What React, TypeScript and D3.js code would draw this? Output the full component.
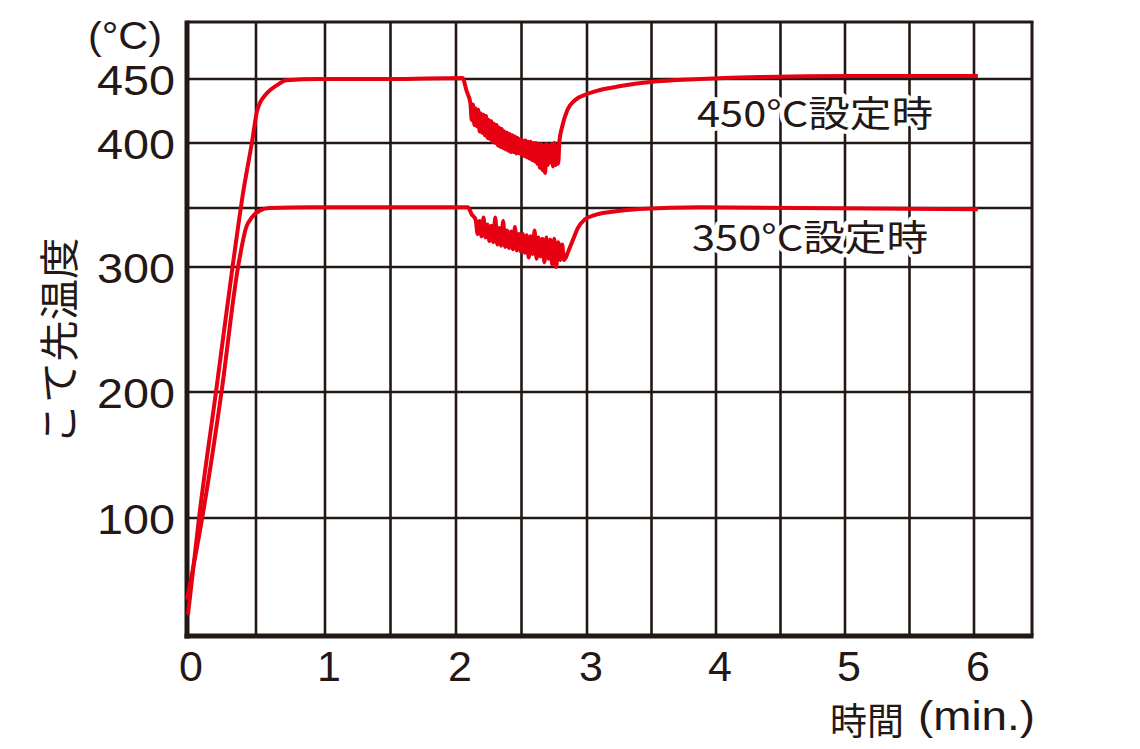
import React from "react";
import * as d3 from "d3";

// ---- data ----
const xTicks = [0, 1, 2, 3, 4, 5, 6];
const xGrid = [0.5, 1, 1.5, 2, 2.5, 3, 3.5, 4, 4.5, 5, 5.5, 6];
const yTicks = [100, 200, 300, 400, 450];
const yGrid = [100, 200, 300, 350, 400, 450];

const t450 = [0.007, 0.087, 0.21, 0.33, 0.41, 0.47, 0.51, 0.58, 0.65, 0.72, 0.96, 1.5, 2.05, 2.08,
  2.11, 2.12, 2.13, 2.14, 2.15, 2.16, 2.17, 2.18, 2.19, 2.2, 2.21, 2.22, 2.23, 2.24, 2.25, 2.26, 2.27, 2.28, 2.29, 2.3,
  2.31, 2.32, 2.33, 2.34, 2.35, 2.36, 2.37, 2.38, 2.39, 2.4, 2.41, 2.42, 2.43, 2.44, 2.45, 2.46, 2.47, 2.48, 2.49, 2.5,
  2.51, 2.52, 2.53, 2.54, 2.55, 2.56, 2.57, 2.58, 2.59, 2.6, 2.61, 2.62, 2.63, 2.64, 2.65, 2.66, 2.67, 2.68, 2.69, 2.7,
  2.71, 2.72, 2.73, 2.74, 2.75, 2.76, 2.77, 2.78,
  2.79, 2.81, 2.85, 2.91, 3.0, 3.1, 3.26, 3.49, 3.88, 4.34, 5.04, 6.03];
const v450 = [23, 100, 200, 300, 364, 400, 426, 439, 445, 449, 450, 450, 450.8, 441,
  431, 418, 430, 414, 427, 413, 426, 409, 423, 408, 422, 406, 421, 404, 418, 403, 417, 401, 415, 400,
  414, 398, 412, 397, 411, 396, 409, 395, 408, 394, 407, 393, 406, 393, 405, 392, 404, 392, 403, 391,
  402, 390, 402, 389, 401, 388, 401, 387, 400, 386, 400, 384, 399, 381, 399, 379, 398, 377, 399, 383,
  398, 385, 399, 382, 400, 383, 398, 384,
  402, 412.5, 425.8, 433.6, 438.3, 441.4, 444.5, 447.7, 450, 451.6, 452.3, 452.3];

const t350 = [0.0, 0.11, 0.25, 0.37, 0.43, 0.47, 0.53, 0.6, 0.9, 1.5, 2.09, 2.12,
  2.15, 2.165, 2.18, 2.195, 2.21, 2.225, 2.24, 2.255, 2.27, 2.285, 2.3, 2.315, 2.33, 2.345, 2.36, 2.375, 2.39, 2.405,
  2.42, 2.435, 2.45, 2.465, 2.48, 2.495, 2.51, 2.525, 2.54, 2.555, 2.57, 2.585, 2.6, 2.615, 2.63, 2.645, 2.66, 2.675,
  2.69, 2.705, 2.72, 2.735, 2.75, 2.765, 2.78, 2.795, 2.81, 2.825,
  2.86, 2.9, 2.93, 2.98, 3.06, 3.18, 3.41, 3.88, 6.03];
const v350 = [35, 100, 200, 300, 334, 342, 348, 350, 350.5, 350.5, 350.5, 344.6,
  340, 328, 339, 326, 342, 325, 336, 322, 335, 321, 342, 319, 333, 318, 339, 317, 331, 316,
  330, 315, 334, 314, 328, 313, 328, 312, 327, 308, 326, 311, 331, 307, 325, 309, 324, 304,
  325, 307, 323, 302, 324, 300, 321, 306, 319, 306,
  314, 325, 333, 340, 344, 346.6, 349.2, 350.5, 349];

const RED = "#e60012";
const INK = "#231815";
const FONT = "'Noto Sans CJK JP', 'Noto Sans', sans-serif";
const LATIN = "'Liberation Sans', Arial, sans-serif";

export default function App() {
  const x = d3.scaleLinear().domain([0, 1, 2, 3, 4, 5, 6, 6.45]).range([187, 325, 456, 587, 716, 845, 974, 1032]);
  const y = d3.scaleLinear().domain([6, 100, 200, 300, 350, 400, 450, 495]).range([636, 518, 392, 267, 208, 143, 79, 22]);
  const [x0, x1] = [x(0), x(6.45)];
  const [y0, y1] = [y(6), y(495)];

  const line = d3.line<[number, number]>().x(d => x(d[0])).y(d => y(d[1])).curve(d3.curveMonotoneX);
  const p450 = line(t450.map((t, i) => [t, v450[i]] as [number, number])) || "";
  const p350 = line(t350.map((t, i) => [t, v350[i]] as [number, number])) || "";

  return (
    <svg width={1140} height={749} style={{ position: "absolute", left: 0, top: 0, display: "block", background: "#fff" }}>
      {/* grid */}
      {xGrid.map(v => (
        <line key={"gx" + v} x1={x(v)} x2={x(v)} y1={y1} y2={y0} stroke={INK} strokeWidth={2.6} />
      ))}
      {yGrid.map(v => (
        <line key={"gy" + v} x1={x0} x2={x1} y1={y(v)} y2={y(v)} stroke={INK} strokeWidth={2.6} />
      ))}
      {/* frame */}
      <line x1={x0} x2={x1 + 1.5} y1={y1} y2={y1} stroke={INK} strokeWidth={3} />
      <line x1={x1} x2={x1} y1={y1} y2={y0} stroke={INK} strokeWidth={3} />
      <line x1={x0} x2={x0} y1={y1 - 1.5} y2={y0 + 2.5} stroke={INK} strokeWidth={5} />
      <line x1={x0 - 2.5} x2={x1 + 1.5} y1={y0} y2={y0} stroke={INK} strokeWidth={5} />

      {/* curve labels with white halo */}
      <text x={697} y={127} fontSize={36} fontFamily={FONT} fill={INK} textLength={236} lengthAdjust="spacingAndGlyphs"
        stroke="#fff" strokeWidth={8} paintOrder="stroke" strokeLinejoin="round">450°C設定時</text>
      <text x={692} y={251} fontSize={36} fontFamily={FONT} fill={INK} textLength={236} lengthAdjust="spacingAndGlyphs"
        stroke="#fff" strokeWidth={8} paintOrder="stroke" strokeLinejoin="round">350°C設定時</text>

      {/* curves */}
      <path d={p450} fill="none" stroke={RED} strokeWidth={4} strokeLinejoin="round" />
      <path d={p350} fill="none" stroke={RED} strokeWidth={4} strokeLinejoin="round" />

      {/* y tick labels */}
      {yTicks.map(v => (
        <text key={"yt" + v} x={175} y={y(v) + 16} fontSize={43} fontFamily={LATIN} fill={INK}
          textAnchor="end" textLength={78} lengthAdjust="spacingAndGlyphs">{v}</text>
      ))}
      {/* x tick labels */}
      {xTicks.map(v => (
        <text key={"xt" + v} x={x(v) + 4} y={681} fontSize={43} fontFamily={LATIN} fill={INK}
          textAnchor="middle">{v}</text>
      ))}
      {/* unit */}
      <text x={88} y={49} fontSize={38} fontFamily={LATIN} fill={INK} textLength={74} lengthAdjust="spacingAndGlyphs">(°C)</text>
      {/* y title */}
      <text transform={`translate(57,341) rotate(-90)`} fontSize={40} fontFamily={FONT} fill={INK}
        textAnchor="middle" dominantBaseline="central" textLength={207} lengthAdjust="spacingAndGlyphs">こて先温度</text>
      {/* x title */}
      <text x={830} y={735} fontSize={37} fontFamily={FONT} fill={INK}>時間</text>
      <text x={918} y={730} fontSize={40} fontFamily={LATIN} fill={INK} textLength={117} lengthAdjust="spacingAndGlyphs">(min.)</text>
    </svg>
  );
}
